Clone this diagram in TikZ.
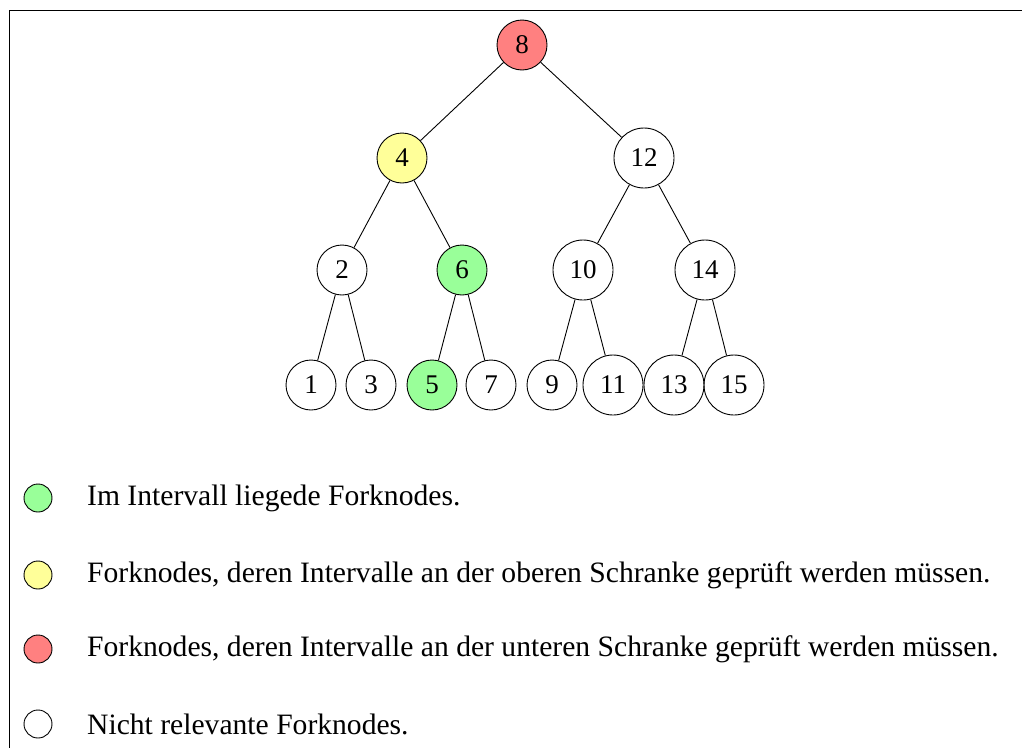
\documentclass[tikz,border=0pt]{standalone}
\usepackage{fontspec}
\setmainfont{Liberation Serif}
\definecolor{fillred}{RGB}{255,128,128}
\definecolor{fillyellow}{RGB}{255,255,153}
\definecolor{fillgreen}{RGB}{153,255,153}
\begin{document}
\begin{tikzpicture}[x=1pt,y=-1pt,
  vertex/.style={circle,draw,line width=0.9pt,inner sep=0pt,minimum size=50pt,
    font=\fontsize{27}{30}\selectfont},
  wide/.style={minimum size=60pt},
  inrange/.style={fill=fillgreen},
  upperb/.style={fill=fillyellow},
  lowerb/.style={fill=fillred},
  keydot/.style={circle,draw,line width=0.9pt,inner sep=0pt,minimum size=28pt},
  keytext/.style={anchor=west,inner sep=0pt,font=\fontsize{29.6}{33}\selectfont},
  link/.style={line width=0.9pt}]
\useasboundingbox (0,0) rectangle (1022,747);
\clip (0,0) rectangle (1022,747);
\draw[line width=1.6pt] (9.5,10.5) rectangle (1040,770);

% tree
\node[vertex,lowerb] (n8) at (522,45) {8};
\node[vertex,upperb] (n4) at (402,158) {4};
\node[vertex,wide] (n12) at (644,158) {12};
\node[vertex] (n2) at (342,270) {2};
\node[vertex,inrange] (n6) at (462,270) {6};
\node[vertex,wide] (n10) at (583,270) {10};
\node[vertex,wide] (n14) at (705,270) {14};
\node[vertex] (n1) at (311,385) {1};
\node[vertex] (n3) at (371,385) {3};
\node[vertex,inrange] (n5) at (432,385) {5};
\node[vertex] (n7) at (491,385) {7};
\node[vertex] (n9) at (552,385) {9};
\node[vertex,wide] (n11) at (613,385) {11};
\node[vertex,wide] (n13) at (674,385) {13};
\node[vertex,wide] (n15) at (734,385) {15};

\foreach \a/\b in {n8/n4,n8/n12,n4/n2,n4/n6,n12/n10,n12/n14,
                   n2/n1,n2/n3,n6/n5,n6/n7,n10/n9,n10/n11,n14/n13,n14/n15}
  \draw[link] (\a) -- (\b);

% key
\node[keydot,inrange] (k1) at (38,498) {};
\node[keytext] (t1) at (87,498) {Im Intervall liegede Forknodes.};
\node[keydot,upperb] (k2) at (38,575) {};
\node[keytext] (t2) at (87,575) {Forknodes, deren Intervalle an der oberen Schranke geprüft werden müssen.};
\node[keydot,lowerb] (k3) at (38,649) {};
\node[keytext] (t3) at (87,649) {Forknodes, deren Intervalle an der unteren Schranke geprüft werden müssen.};
\node[keydot] (k4) at (38,724) {};
\node[keytext] (t4) at (87,724) {Nicht relevante Forknodes.};
\end{tikzpicture}
\end{document}
